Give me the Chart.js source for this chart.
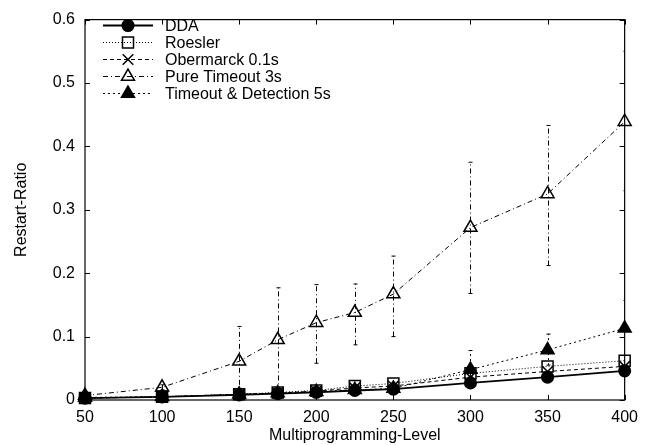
<!DOCTYPE html>
<html>
<head>
<meta charset="utf-8">
<script src="https://cdn.jsdelivr.net/npm/chart.js@4/dist/chart.umd.min.js"></script>
<style>
  html, body { margin: 0; padding: 0; background: #fff; }
  #wrap { width: 646px; height: 445px; }
</style>
</head>
<body>
<div id="wrap"><canvas id="c" width="646" height="445"></canvas></div>
<script>
// Multiprogramming levels (x) and restart ratios per deadlock-handling strategy
const levels = [50, 100, 150, 175, 200, 225, 250, 300, 350, 400];

const dda        = [0.003, 0.005, 0.008, 0.010, 0.012, 0.015, 0.017, 0.027, 0.036, 0.046];
const roesler    = [0.003, 0.005, 0.009, 0.012, 0.015, 0.022, 0.026, 0.042, 0.053, 0.062];
const obermarck  = [0.003, 0.005, 0.009, 0.011, 0.014, 0.019, 0.022, 0.036, 0.045, 0.053];
const pureTimeout     = [0.007, 0.020, 0.061, 0.095, 0.122, 0.138, 0.167, 0.272, 0.325, 0.439];
const pureTimeoutLow  = [0.005, 0.016, 0.005, 0.012, 0.058, 0.087, 0.100, 0.168, 0.212, 0.330];
const pureTimeoutHigh = [0.009, 0.024, 0.116, 0.177, 0.182, 0.183, 0.227, 0.375, 0.433, 0.550];
const timeoutDetect     = [0.004, 0.005, 0.009, 0.011, 0.013, 0.016, 0.018, 0.048, 0.079, 0.113];
const timeoutDetectLow  = [0.003, 0.004, 0.007, 0.009, 0.010, 0.011, 0.012, 0.030, 0.055, 0.070];
const timeoutDetectHigh = [0.005, 0.006, 0.011, 0.013, 0.016, 0.022, 0.028, 0.078, 0.104, 0.157];

const seriesNames = ['DDA', 'Roesler', 'Obermarck 0.1s', 'Pure Timeout 3s', 'Timeout & Detection 5s'];
const xTickValues = [50, 100, 150, 200, 250, 300, 350, 400];
const yTickValues = [0, 0.1, 0.2, 0.3, 0.4, 0.5, 0.6];
const xTitle = 'Multiprogramming-Level';
const yTitle = 'Restart-Ratio';

const FONT = "'Liberation Sans', Arial, Helvetica, sans-serif";
const FONT_SIZE = 16;

const toPoints = vals => vals.map((v, i) => ({ x: levels[i], y: v }));

const datasets = [
  { label: seriesNames[0], data: toPoints(dda), borderDash: [], borderWidth: 1.8,
    pointStyle: 'circle', pointRadius: 5.8, filled: true, order: 4 },
  { label: seriesNames[1], data: toPoints(roesler), borderDash: [1, 2], borderWidth: 1,
    pointStyle: 'rect', pointRadius: 7.8, filled: false, order: 3 },
  { label: seriesNames[2], data: toPoints(obermarck), borderDash: [4, 3], borderWidth: 1,
    pointStyle: 'crossRot', pointRadius: 7.5, filled: false, order: 2 },
  { label: seriesNames[3], data: toPoints(pureTimeout), borderDash: [5, 3, 1, 3], borderWidth: 1,
    pointStyle: 'triangle', pointRadius: 7.5, filled: false, order: 1,
    errLow: pureTimeoutLow, errHigh: pureTimeoutHigh },
  { label: seriesNames[4], data: toPoints(timeoutDetect), borderDash: [2, 3], borderWidth: 1,
    pointStyle: 'triangle', pointRadius: 7.5, filled: true, order: 0,
    errLow: timeoutDetectLow, errHigh: timeoutDetectHigh }
].map(d => Object.assign(d, {
  borderColor: '#000',
  backgroundColor: d.filled ? '#000' : 'rgba(0,0,0,0)',
  pointBackgroundColor: d.filled ? '#000' : 'rgba(0,0,0,0)',
  pointBorderColor: '#000',
  pointBorderWidth: 1.5,
  pointHoverRadius: d.pointRadius,
  tension: 0,
  fill: false,
  clip: false
}));

// Marker geometry in the same spirit as Chart.js point styles, used by the key
function drawMarker(ctx, style, x, y, r, filled) {
  ctx.save();
  ctx.setLineDash([]);
  ctx.lineWidth = 1.5;
  ctx.strokeStyle = '#000';
  ctx.fillStyle = '#000';
  ctx.beginPath();
  if (style === 'circle') {
    ctx.arc(x, y, r, 0, Math.PI * 2);
  } else if (style === 'rect') {
    const s = Math.SQRT1_2 * r;
    ctx.rect(x - s, y - s, 2 * s, 2 * s);
  } else if (style === 'crossRot') {
    const s = Math.SQRT1_2 * r;
    ctx.moveTo(x - s, y - s); ctx.lineTo(x + s, y + s);
    ctx.moveTo(x - s, y + s); ctx.lineTo(x + s, y - s);
  } else if (style === 'triangle') {
    let a = 0;
    ctx.moveTo(x + Math.sin(a) * r, y - Math.cos(a) * r);
    a += 2 * Math.PI / 3;
    ctx.lineTo(x + Math.sin(a) * r, y - Math.cos(a) * r);
    a += 2 * Math.PI / 3;
    ctx.lineTo(x + Math.sin(a) * r, y - Math.cos(a) * r);
    ctx.closePath();
  }
  if (filled) ctx.fill();
  ctx.stroke();
  ctx.restore();
}

// Boxed frame with inward tick marks on all four sides, plus axis titles
const framePlugin = {
  id: 'frame',
  beforeDatasetsDraw(chart) {
    const { ctx, chartArea: a, scales: { x, y } } = chart;
    const t = 5;
    ctx.save();
    ctx.strokeStyle = '#000';
    ctx.lineWidth = 1.2;
    ctx.setLineDash([]);
    ctx.strokeRect(a.left, a.top, a.right - a.left, a.bottom - a.top);
    ctx.beginPath();
    xTickValues.forEach(v => {
      const px = Math.round(x.getPixelForValue(v)) + 0.5;
      ctx.moveTo(px, a.bottom); ctx.lineTo(px, a.bottom - t);
      ctx.moveTo(px, a.top); ctx.lineTo(px, a.top + t);
    });
    yTickValues.forEach(v => {
      const py = Math.round(y.getPixelForValue(v)) + 0.5;
      ctx.moveTo(a.left, py); ctx.lineTo(a.left + t, py);
      ctx.moveTo(a.right, py); ctx.lineTo(a.right - t, py);
    });
    ctx.lineWidth = 1;
    ctx.stroke();

    ctx.fillStyle = '#000';
    ctx.font = FONT_SIZE + 'px ' + FONT;
    ctx.textAlign = 'center';
    ctx.textBaseline = 'alphabetic';
    ctx.fillText(xTitle, (a.left + a.right) / 2, 440);
    ctx.translate(22, (a.top + a.bottom) / 2);
    ctx.rotate(-Math.PI / 2);
    ctx.textBaseline = 'middle';
    ctx.fillText(yTitle, 0, 0);
    ctx.restore();
  }
};

// Vertical error bars with small caps, stroked in the series' dash style
const errorBarPlugin = {
  id: 'errorBars',
  beforeDatasetsDraw(chart) {
    const { ctx, chartArea: a, scales: { x, y } } = chart;
    ctx.save();
    ctx.beginPath();
    ctx.rect(a.left, a.top, a.right - a.left, a.bottom - a.top);
    ctx.clip();
    ctx.strokeStyle = '#000';
    ctx.lineWidth = 1;
    chart.data.datasets.forEach(ds => {
      if (!ds.errLow) return;
      levels.forEach((lv, i) => {
        const px = Math.round(x.getPixelForValue(lv)) + 0.5;
        const lo = y.getPixelForValue(ds.errLow[i]);
        const hi = y.getPixelForValue(ds.errHigh[i]);
        ctx.setLineDash(ds.borderDash);
        ctx.beginPath();
        ctx.moveTo(px, lo); ctx.lineTo(px, hi);
        ctx.stroke();
        ctx.setLineDash([]);
        ctx.beginPath();
        ctx.moveTo(px - 2, hi); ctx.lineTo(px + 2, hi);
        ctx.moveTo(px - 2, lo); ctx.lineTo(px + 2, lo);
        ctx.stroke();
      });
    });
    ctx.restore();
  }
};

// Key in the upper-left corner: line sample with the marker centred on it
const keyPlugin = {
  id: 'key',
  afterDatasetsDraw(chart) {
    const { ctx } = chart;
    const x0 = 103, x1 = 153, textX = 165, y0 = 25, dy = 17;
    ctx.save();
    ctx.font = FONT_SIZE + 'px ' + FONT;
    ctx.textAlign = 'left';
    ctx.textBaseline = 'middle';
    ctx.fillStyle = '#000';
    chart.data.datasets.forEach((ds, i) => {
      const yy = Math.round(y0 + i * dy) + 0.5;
      ctx.strokeStyle = '#000';
      ctx.lineWidth = ds.borderWidth;
      ctx.setLineDash(ds.borderDash);
      ctx.beginPath();
      ctx.moveTo(x0, yy); ctx.lineTo(x1, yy);
      ctx.stroke();
      drawMarker(ctx, ds.pointStyle, (x0 + x1) / 2, yy, ds.pointRadius, ds.filled);
      ctx.fillText(ds.label, textX, yy + 1);
    });
    ctx.restore();
  }
};

new Chart(document.getElementById('c'), {
  type: 'line',
  data: { datasets },
  options: {
    responsive: false,
    animation: false,
    devicePixelRatio: 1,
    layout: { padding: { top: 13, right: 20, left: 0, bottom: 0 } },
    plugins: { legend: { display: false }, tooltip: { enabled: false } },
    scales: {
      x: {
        type: 'linear',
        min: 50, max: 400,
        grid: { display: false, drawTicks: false },
        border: { display: false },
        afterFit(scale) { scale.height = 45; },
        afterBuildTicks(scale) { scale.ticks = xTickValues.map(v => ({ value: v })); },
        ticks: {
          padding: 8,
          color: '#000',
          font: { family: FONT, size: FONT_SIZE },
          maxRotation: 0,
          autoSkip: false,
          callback: v => String(v)
        }
      },
      y: {
        type: 'linear',
        min: 0, max: 0.6,
        grid: { display: false, drawTicks: false },
        border: { display: false },
        afterFit(scale) { scale.width = 85; },
        afterBuildTicks(scale) { scale.ticks = yTickValues.map(v => ({ value: v })); },
        ticks: {
          padding: 10,
          color: '#000',
          font: { family: FONT, size: FONT_SIZE },
          autoSkip: false,
          callback: v => (v === 0 ? '0' : Number(v).toFixed(1))
        }
      }
    }
  },
  plugins: [framePlugin, errorBarPlugin, keyPlugin]
});
</script>
</body>
</html>
